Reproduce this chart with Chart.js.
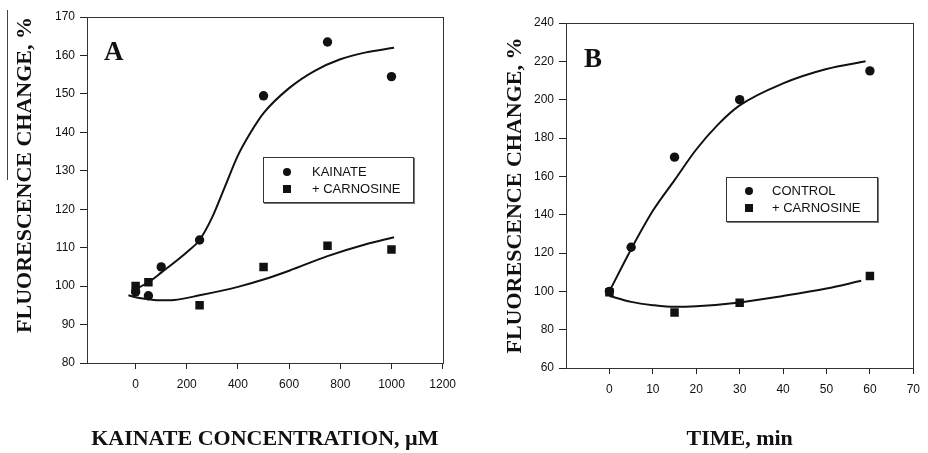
<!DOCTYPE html>
<html>
<head>
<meta charset="utf-8">
<script src="https://cdn.jsdelivr.net/npm/chart.js@4.4.0/dist/chart.umd.min.js"></script>
<style>
  body { margin: 0; background: #fff; }
  #page { position: relative; width: 928px; height: 453px; overflow: hidden; }
  .panel { position: absolute; top: 0; width: 464px; height: 453px; }
  .letter { position: absolute; font: bold 27px "Liberation Serif", serif; color: #111; line-height: 1; }
  .legend { position: absolute; border: 1px solid #333; box-shadow: 1px 1px 0 #777; font: 13px "Liberation Sans", Arial, sans-serif; color: #111; }
  .legend .mk { position: absolute; background: #111; }
  .legend .circ { width: 8px; height: 8px; border-radius: 50%; }
  .legend .sq { width: 8px; height: 8px; }
  .legend .txt { position: absolute; white-space: nowrap; }
  #scanline { position: absolute; left: 7px; top: 10px; width: 1px; height: 170px; background: #444; }
</style>
</head>
<body>
<div id="page">
  <div class="panel" style="left:0"><canvas id="chartA"></canvas></div>
  <div class="panel" style="left:464px"><canvas id="chartB"></canvas></div>
  <div id="scanline"></div>
  <div class="letter" style="left:104px; top:38px">A</div>
  <div class="letter" style="left:584px; top:45px">B</div>
  <div class="legend" style="left:263px; top:157px; width:149px; height:44px">
    <span class="mk circ" style="left:19px; top:10px"></span><span class="txt" style="left:48px; top:6px">KAINATE</span>
    <span class="mk sq" style="left:19px; top:27px"></span><span class="txt" style="left:48px; top:23px">+ CARNOSINE</span>
  </div>
  <div class="legend" style="left:726px; top:177px; width:150px; height:43px">
    <span class="mk circ" style="left:18px; top:9px"></span><span class="txt" style="left:45px; top:5px">CONTROL</span>
    <span class="mk sq" style="left:18px; top:26px"></span><span class="txt" style="left:45px; top:22px">+ CARNOSINE</span>
  </div>
</div>
<script>
// Panel A: kainate concentration (uM)
const kainateConcA = [0, 50, 100, 250, 500, 750, 1000];
const kainateA = [98.5, 97.5, 105, 112, 149.5, 163.5, 154.5];
const carnosineConcA = [0, 50, 250, 500, 750, 1000];
const carnosineA = [100, 101, 95, 105, 110.5, 109.5];
// fitted curves
const kainateFitXA = [-7, 50, 100, 200, 250, 300, 350, 400, 450, 500, 600, 700, 800, 900, 1010];
const kainateFitYA = [99, 101, 103.5, 108.8, 112, 118, 126, 134, 140, 145, 151.5, 156, 159, 160.8, 162];
const carnosineFitXA = [-28, 0, 50, 100, 150, 250, 400, 500, 600, 750, 900, 1010];
const carnosineFitYA = [97.6, 97.1, 96.6, 96.3, 96.4, 97.6, 99.8, 101.7, 104, 107.8, 110.9, 112.7];
const xTicksA = [0, 200, 400, 600, 800, 1000, 1200];

// Panel B: time (min)
const timeControlB = [0, 5, 15, 30, 60];
const controlB = [100, 123, 170, 200, 215];
const timeCarnosineB = [0, 15, 30, 60];
const carnosineB = [99.5, 89, 94, 108];
const controlFitXB = [0, 5, 10, 15, 20, 25, 30, 40, 50, 59];
const controlFitYB = [100, 122, 142, 158, 174, 187, 197, 208.5, 216, 220];
const carnosineFitXB = [0, 5, 10, 15, 20, 30, 40, 50, 58];
const carnosineFitYB = [97.6, 94.5, 92.8, 91.9, 92.2, 94.2, 97.6, 101.5, 105.5];
const xTicksB = [0, 10, 20, 30, 40, 50, 60, 70];

const ink = "#111";
const pts = (xs, ys) => xs.map((x, i) => ({ x: x, y: ys[i] }));

// box round the plot area
const frame = {
    id: "frame",
    afterDraw(chart) {
        const a = chart.chartArea, c = chart.ctx;
        c.save();
        c.strokeStyle = "#333";
        c.lineWidth = 1;
        c.strokeRect(Math.round(a.left) + 0.5, Math.round(a.top) + 0.5, Math.round(a.right - a.left), Math.round(a.bottom - a.top));
        c.restore();
    }
};

function fitLine(xs, ys) {
    return {
        data: pts(xs, ys), showLine: true, borderColor: ink, borderWidth: 2,
        pointRadius: 0, cubicInterpolationMode: "monotone", fill: false
    };
}
function markers(xs, ys, style) {
    return {
        data: pts(xs, ys), showLine: false, pointStyle: style,
        pointRadius: style === "rect" ? 6 : 4.7,
        backgroundColor: ink, borderColor: ink, borderWidth: 0
    };
}

function makeChart(id, cfg) {
    const tickFont = { family: "Liberation Sans", size: 12 };
    const titleFont = { family: "Liberation Serif", size: 22, weight: "bold" };
    return new Chart(document.getElementById(id), {
        type: "scatter",
        data: { datasets: cfg.datasets },
        plugins: [frame],
        options: {
            responsive: true,
            maintainAspectRatio: false,
            animation: false,
            layout: { padding: cfg.padding },
            plugins: { legend: { display: false }, tooltip: { enabled: false } },
            scales: {
                x: {
                    type: "linear", min: cfg.xMin, max: cfg.xMax,
                    afterBuildTicks: (s) => { s.ticks = cfg.xTicks.map((v) => ({ value: v })); },
                    afterFit: (s) => { s.height = cfg.xHeight; },
                    grid: { drawOnChartArea: false, tickLength: 6, color: "#222" },
                    border: { color: "#333" },
                    ticks: { font: tickFont, color: ink, padding: 8, maxRotation: 0, callback: (v) => String(v) },
                    title: { display: true, text: cfg.xTitle, font: titleFont, color: ink, padding: { top: 0, bottom: 0 } }
                },
                y: {
                    min: cfg.yMin, max: cfg.yMax,
                    afterFit: (s) => { s.width = cfg.yWidth; },
                    grid: { drawOnChartArea: false, tickLength: 7, color: "#222" },
                    border: { color: "#333" },
                    ticks: { stepSize: cfg.yStep, font: tickFont, color: ink, padding: 5 },
                    title: {
                        display: true, text: "FLUORESCENCE CHANGE, %", font: titleFont, color: ink,
                        align: cfg.yTitleAlign, padding: { top: cfg.yTitlePad, bottom: 0 }
                    }
                }
            }
        }
    });
}

makeChart("chartA", {
    datasets: [
        fitLine(kainateFitXA, kainateFitYA),
        fitLine(carnosineFitXA, carnosineFitYA),
        markers(kainateConcA, kainateA, "circle"),
        markers(carnosineConcA, carnosineA, "rect")
    ],
    padding: { left: 0, top: 17, right: 21, bottom: 0 },
    xMin: -190, xMax: 1200, xTicks: xTicksA, xHeight: 90,
    xTitle: "KAINATE CONCENTRATION, \u00b5M",
    yMin: 80, yMax: 170, yStep: 10, yWidth: 87, yTitlePad: 12, yTitleAlign: "end"
});

makeChart("chartB", {
    datasets: [
        fitLine(controlFitXB, controlFitYB),
        fitLine(carnosineFitXB, carnosineFitYB),
        markers(timeControlB, controlB, "circle"),
        markers(timeCarnosineB, carnosineB, "rect")
    ],
    padding: { left: 0, top: 23, right: 6, bottom: 0 },
    xMin: -10, xMax: 70, xTicks: xTicksB, xHeight: 85,
    xTitle: "TIME, min",
    yMin: 60, yMax: 240, yStep: 20, yWidth: 102, yTitlePad: 38, yTitleAlign: "center"
});
</script>
</body>
</html>
